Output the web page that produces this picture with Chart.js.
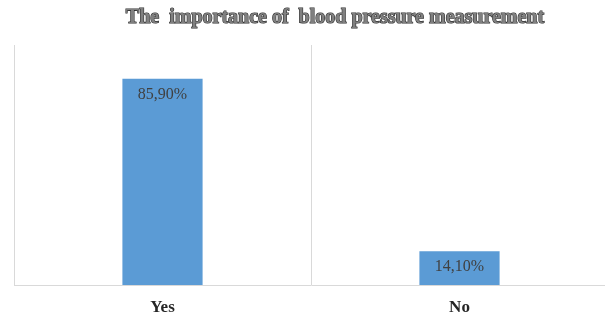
<!DOCTYPE html>
<html>
<head>
<meta charset="utf-8">
<script src="https://cdn.jsdelivr.net/npm/chart.js@4"></script>
<style>
  html, body { margin: 0; padding: 0; background: #fff; overflow: hidden; }
  #wrap { width: 608px; height: 317px; }
</style>
</head>
<body>
<div id="wrap"><canvas id="bpChart"></canvas></div>
<script>
const categories = ['Yes', 'No'];
const shares = [85.9, 14.1];
const shareLabels = ['85,90%', '14,10%'];
const chartTitle = 'The  importance of  blood pressure measurement';

// title with a dark outline, drawn by hand
const titlePlugin = {
  id: 'embossTitle',
  afterDraw(chart) {
    const ctx = chart.ctx;
    ctx.save();
    ctx.font = 'bold 20px "Liberation Serif", "Times New Roman", serif';
    ctx.textAlign = 'center';
    ctx.textBaseline = 'middle';
    ctx.lineWidth = 1.2;
    ctx.strokeStyle = '#2e2e2e';
    ctx.strokeText(chartTitle, 335, 18);
    ctx.fillStyle = '#808080';
    ctx.fillText(chartTitle, 335, 18);
    ctx.restore();
  }
};

// value labels inside the top of each bar
const valuePlugin = {
  id: 'barValues',
  afterDatasetsDraw(chart) {
    const ctx = chart.ctx;
    const meta = chart.getDatasetMeta(0);
    ctx.save();
    ctx.font = '16px "Liberation Serif", "Times New Roman", serif';
    ctx.fillStyle = '#404040';
    ctx.textAlign = 'center';
    ctx.textBaseline = 'middle';
    meta.data.forEach(function(bar, i) {
      ctx.fillText(shareLabels[i], bar.x, bar.y + 16);
    });
    ctx.restore();
  }
};

new Chart(document.getElementById('bpChart'), {
  type: 'bar',
  data: {
    labels: categories,
    datasets: [{
      data: shares,
      backgroundColor: '#5b9bd5',
      borderWidth: 0,
      categoryPercentage: 1,
      barPercentage: 0.27
    }]
  },
  options: {
    responsive: true,
    maintainAspectRatio: false,
    animation: false,
    layout: { padding: { top: 45, left: 14, right: 0, bottom: 0 } },
    plugins: {
      legend: { display: false },
      title: { display: false },
      tooltip: { enabled: false }
    },
    scales: {
      x: {
        grid: { offset: true, color: '#d9d9d9', drawTicks: false },
        border: { color: '#d9d9d9' },
        afterFit(scale) { scale.height = 32; },
        ticks: {
          padding: 12,
          color: '#262626',
          font: { family: '"Liberation Serif", "Times New Roman", serif', size: 17, weight: 'bold' }
        }
      },
      y: { display: false, min: 0, max: 100 }
    }
  },
  plugins: [titlePlugin, valuePlugin]
});
</script>
</body>
</html>
